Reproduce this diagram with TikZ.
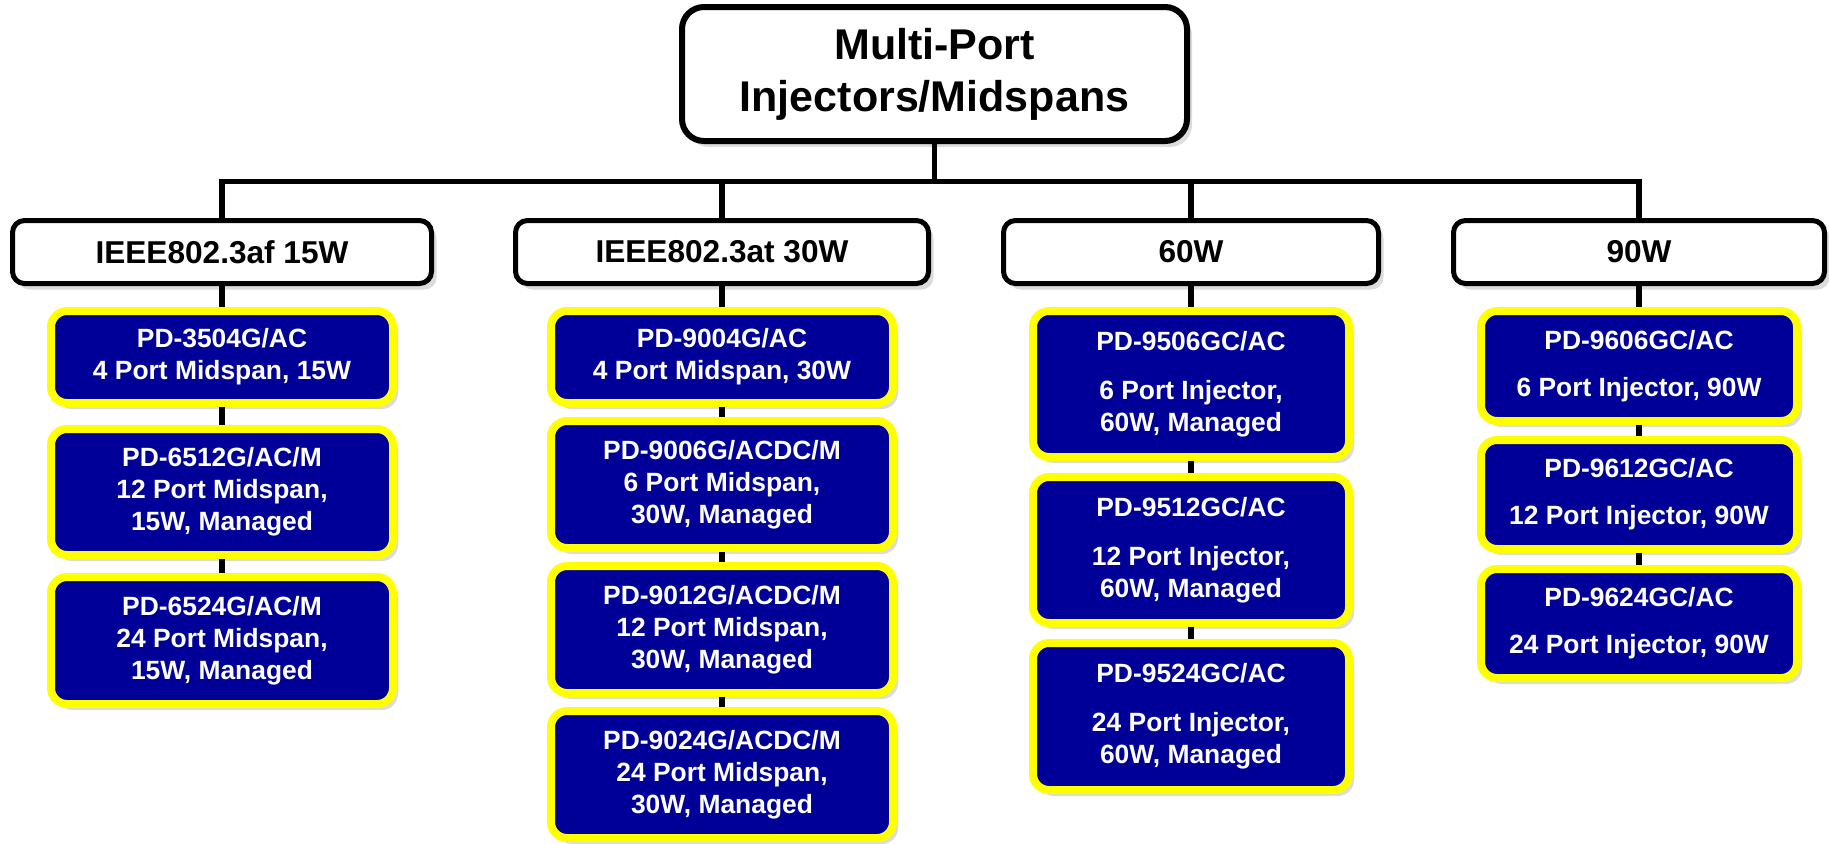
\documentclass[tikz,border=0pt]{standalone}
\usepackage{fontspec}
\setmainfont{Liberation Sans}
\usetikzlibrary{positioning,shadows}

\definecolor{prodblue}{RGB}{0,0,153}
\definecolor{prodyellow}{RGB}{255,255,0}

\tikzset{
  boxshadow/.style={drop shadow={shadow xshift=2.5pt,shadow yshift=-3pt,opacity=.28}},
  topbox/.style={draw=black,line width=3pt,fill=white,rounded corners=11pt,
    minimum width=252.5pt,minimum height=67pt,align=center,boxshadow,
    font=\fontsize{21.5}{26}\selectfont\bfseries},
  catbox/.style={draw=black,line width=2.5pt,fill=white,rounded corners=6pt,
    minimum height=31.5pt,boxshadow,font=\fontsize{15.8}{19}\selectfont\bfseries},
  prodbox/.style={draw=prodyellow,line width=4pt,fill=prodblue,text=white,
    rounded corners=8pt,align=center,inner sep=2pt,boxshadow,
    font=\fontsize{13.2}{16}\selectfont\bfseries},
  midbox/.style={prodbox,minimum width=171pt},
  injbox/.style={prodbox,minimum width=158pt},
  tree/.style={draw=black,line width=2.75pt},
}

\begin{document}
\begin{tikzpicture}[x=0.5pt,y=0.5pt]
  \useasboundingbox (0,0) rectangle (1829,-843);

  \node[topbox] (root) at (934.5,-74) {Multi-Port\\Injectors/Midspans};

  \node[catbox,minimum width=209.5pt] (cat15) at (222,-252) {IEEE802.3af 15W};
  \node[catbox,minimum width=206.5pt] (cat30) at (722,-252) {IEEE802.3at 30W};
  \node[catbox,minimum width=187.5pt] (cat60) at (1191,-252) {60W};
  \node[catbox,minimum width=185.5pt] (cat90) at (1639,-252) {90W};

  % 15W midspans
  \node[midbox,minimum height=46pt] (m3504) [below=10.5pt of cat15]
    {PD-3504G/AC\\4 Port Midspan, 15W};
  \node[midbox,minimum height=63pt] (m6512) [below=9pt of m3504]
    {PD-6512G/AC/M\\12 Port Midspan,\\15W, Managed};
  \node[midbox,minimum height=63.5pt] (m6524) [below=7pt of m6512]
    {PD-6524G/AC/M\\24 Port Midspan,\\15W, Managed};

  % 30W midspans
  \node[midbox,minimum height=46pt] (m9004) [below=10.5pt of cat30]
    {PD-9004G/AC\\4 Port Midspan, 30W};
  \node[midbox,minimum height=63.5pt] (m9006) [below=5pt of m9004]
    {PD-9006G/ACDC/M\\6 Port Midspan,\\30W, Managed};
  \node[midbox,minimum height=63.5pt] (m9012) [below=5pt of m9006]
    {PD-9012G/ACDC/M\\12 Port Midspan,\\30W, Managed};
  \node[midbox,minimum height=63.5pt] (m9024) [below=5pt of m9012]
    {PD-9024G/ACDC/M\\24 Port Midspan,\\30W, Managed};

  % 60W injectors
  \node[injbox,minimum height=73pt] (i9506) [below=10.5pt of cat60]
    {PD-9506GC/AC\\[8.5pt]6 Port Injector,\\60W, Managed};
  \node[injbox,minimum height=73pt] (i9512) [below=6pt of i9506]
    {PD-9512GC/AC\\[8.5pt]12 Port Injector,\\60W, Managed};
  \node[injbox,minimum height=73.5pt] (i9524) [below=6pt of i9512]
    {PD-9524GC/AC\\[8.5pt]24 Port Injector,\\60W, Managed};

  % 90W injectors
  \node[injbox,minimum height=55pt] (i9606) [below=10.5pt of cat90]
    {PD-9606GC/AC\\[7.5pt]6 Port Injector, 90W};
  \node[injbox,minimum height=54.5pt] (i9612) [below=5.5pt of i9606]
    {PD-9612GC/AC\\[7.5pt]12 Port Injector, 90W};
  \node[injbox,minimum height=54.5pt] (i9624) [below=6pt of i9612]
    {PD-9624GC/AC\\[7.5pt]24 Port Injector, 90W};

  \coordinate (bus) at (934.5,-181.5);
  \draw[tree] (root) -- (bus);
  \draw[tree] (cat15) |- (bus) -| (cat90);
  \draw[tree] (cat30) -- (cat30 |- bus);
  \draw[tree] (cat60) -- (cat60 |- bus);

  \draw[tree] (cat15) -- (m3504) (m3504) -- (m6512) (m6512) -- (m6524);
  \draw[tree] (cat30) -- (m9004) (m9004) -- (m9006) (m9006) -- (m9012)
    (m9012) -- (m9024);
  \draw[tree] (cat60) -- (i9506) (i9506) -- (i9512) (i9512) -- (i9524);
  \draw[tree] (cat90) -- (i9606) (i9606) -- (i9612) (i9612) -- (i9624);
\end{tikzpicture}
\end{document}
